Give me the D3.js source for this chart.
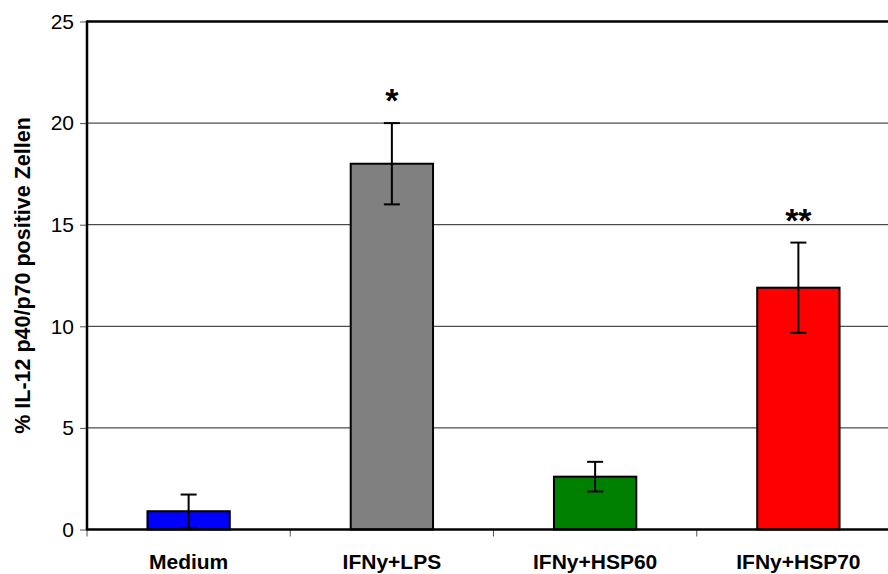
<!DOCTYPE html>
<html><head><meta charset="utf-8">
<script src="https://cdn.jsdelivr.net/npm/d3@7"></script>
<style>body{margin:0;background:#fff}svg{display:block}</style>
</head><body>
<svg id="c" width="888" height="574"></svg>
<script>
const categories = ["Medium", "IFNy+LPS", "IFNy+HSP60", "IFNy+HSP70"];
const values = [0.9, 18.0, 2.6, 11.9];
const errors = [0.82, 2.0, 0.73, 2.22];
const colors = ["#0000FF", "#808080", "#008000", "#FF0000"];
const significance = ["", "*", "", "**"];
const yTicks = [0, 5, 10, 15, 20, 25];
const yLabel = "% IL-12 p40/p70 positive Zellen";

const svg = d3.select("#c");
const L = 87, R = 900, T = 21.5, B = 529.5;
const x = d3.scaleBand().domain(categories).range([L, R]).padding(0);
const y = d3.scaleLinear().domain([0, 25]).range([B, T]);
const font = "Arial, 'Liberation Sans', Helvetica, sans-serif";

// gridlines
svg.append("g").selectAll("line").data(yTicks.filter(t => t > 0 && t < 25)).join("line")
  .attr("x1", L).attr("x2", R).attr("y1", d => y(d)).attr("y2", d => y(d))
  .attr("stroke", "#222").attr("stroke-width", 1);

// y axis
const ya = svg.append("g").attr("transform", `translate(${L},0)`)
  .call(d3.axisLeft(y).tickValues(yTicks).tickSize(7).tickPadding(6));
ya.select(".domain").remove();
ya.selectAll(".tick line").attr("stroke", "#555");
ya.selectAll(".tick text").attr("font-family", font).attr("font-size", 21).attr("fill", "#000");

// x axis ticks at band boundaries
const bounds = categories.map(c => x(c)).concat([x(categories[categories.length-1]) + x.bandwidth()]);
svg.append("g").selectAll("line").data(bounds).join("line")
  .attr("x1", d => d).attr("x2", d => d).attr("y1", B).attr("y2", B + 7)
  .attr("stroke", "#555");

// bars
const bw = x.bandwidth() * 0.405;
const cx = c => x(c) + x.bandwidth() / 2;
svg.append("g").selectAll("rect").data(categories).join("rect")
  .attr("x", c => cx(c) - bw / 2).attr("width", bw)
  .attr("y", (c, i) => y(values[i])).attr("height", (c, i) => y(0) - y(values[i]))
  .attr("fill", (c, i) => colors[i]).attr("stroke", "#000").attr("stroke-width", 2);

// error bars
const eb = svg.append("g").attr("stroke", "#000").attr("stroke-width", 2);
categories.forEach((c, i) => {
  const hi = values[i] + errors[i], lo = Math.max(0, values[i] - errors[i]);
  eb.append("line").attr("x1", cx(c)).attr("x2", cx(c)).attr("y1", y(hi)).attr("y2", y(lo));
  eb.append("line").attr("x1", cx(c) - 8).attr("x2", cx(c) + 8).attr("y1", y(hi)).attr("y2", y(hi));
  eb.append("line").attr("x1", cx(c) - 8).attr("x2", cx(c) + 8).attr("y1", y(lo)).attr("y2", y(lo));
});

// axis frame lines
svg.append("line").attr("x1", L).attr("x2", L).attr("y1", T - 1).attr("y2", B + 1).attr("stroke", "#000").attr("stroke-width", 2.5);
svg.append("line").attr("x1", L).attr("x2", R).attr("y1", T).attr("y2", T).attr("stroke", "#000").attr("stroke-width", 2.5);
svg.append("line").attr("x1", L).attr("x2", R).attr("y1", B).attr("y2", B).attr("stroke", "#000").attr("stroke-width", 2.5);

// significance
svg.append("g").selectAll("text").data(categories).join("text")
  .attr("x", c => cx(c)).attr("y", (c, i) => y(values[i] + errors[i]) - 11)
  .attr("text-anchor", "middle").attr("font-family", font).attr("font-weight", "bold")
  .attr("font-size", 34).text((c, i) => significance[i]);

// category labels
svg.append("g").selectAll("text").data(categories).join("text")
  .attr("x", c => cx(c)).attr("y", 569)
  .attr("text-anchor", "middle").attr("font-family", font).attr("font-weight", "bold")
  .attr("font-size", 21).text(c => c);

// y label
svg.append("text").attr("transform", `translate(30,${(T + B) / 2}) rotate(-90)`)
  .attr("text-anchor", "middle").attr("font-family", font).attr("font-weight", "bold")
  .attr("font-size", 21.5).text(yLabel);
</script>
</body></html>
